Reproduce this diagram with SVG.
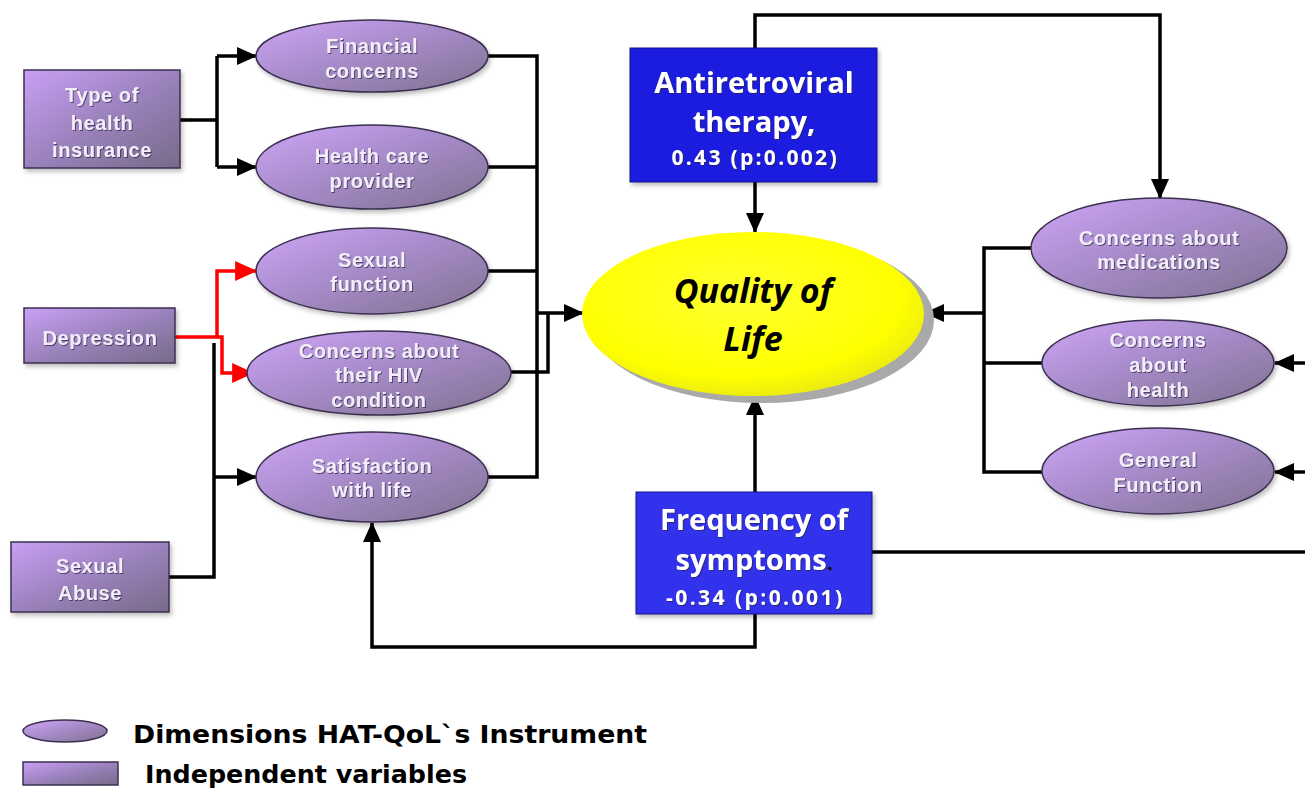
<svg xmlns="http://www.w3.org/2000/svg" width="1305" height="788" viewBox="0 0 1305 788">
<defs>
  <linearGradient id="purp" x1="0" y1="0" x2="1" y2="1">
    <stop offset="0" stop-color="#cfa6f7"/>
    <stop offset="0.45" stop-color="#a88ccb"/>
    <stop offset="1" stop-color="#807190"/>
  </linearGradient>
  <linearGradient id="purpBox" x1="0" y1="0" x2="1" y2="1">
    <stop offset="0" stop-color="#c9a0f5"/>
    <stop offset="0.5" stop-color="#9b82bd"/>
    <stop offset="1" stop-color="#786a88"/>
  </linearGradient>
  <radialGradient id="yel" cx="0.45" cy="0.4" r="0.6">
    <stop offset="0" stop-color="#ffff30"/>
    <stop offset="0.8" stop-color="#ffff00"/>
    <stop offset="1" stop-color="#eded10"/>
  </radialGradient>
  <filter id="ts" x="-10%" y="-30%" width="120%" height="160%">
    <feDropShadow dx="1" dy="1" stdDeviation="0.6" flood-color="#2a2040" flood-opacity="0.7"/>
  </filter>
  <filter id="ns" x="-10%" y="-10%" width="125%" height="130%">
    <feDropShadow dx="2" dy="3" stdDeviation="2" flood-color="#000" flood-opacity="0.25"/>
  </filter>
  <marker id="ab" viewBox="0 0 20 18" refX="19" refY="9" markerWidth="20" markerHeight="18" orient="auto" markerUnits="userSpaceOnUse">
    <path d="M0,0 L20,9 L0,18 z" fill="#000"/>
  </marker>
  <marker id="ar" viewBox="0 0 20 18" refX="19" refY="9" markerWidth="22" markerHeight="20" orient="auto" markerUnits="userSpaceOnUse">
    <path d="M0,0 L20,9 L0,18 z" fill="#ff0000"/>
  </marker>
</defs>
<style>
  .ell { fill: url(#purp); stroke: #3b3050; stroke-width: 1.5; }
  .box { fill: url(#purpBox); stroke: #3b3050; stroke-width: 1.5; }
  .nt { font-family: "Liberation Sans", Arial, sans-serif; font-weight: bold; font-size: 20px; fill: #f3ecfa; text-anchor: middle; letter-spacing: 0.6px; }
  .bt { font-family: "Open Sans", "Liberation Sans", sans-serif; font-weight: bold; fill: #ffffff; text-anchor: middle; }
  .qt { font-family: "Open Sans", "Liberation Sans", sans-serif; font-weight: bold; font-style: italic; font-size: 34px; fill: #000; text-anchor: middle; }
  .ln { fill: none; stroke: #000; stroke-width: 3.5; stroke-linejoin: miter; }
  .rd { fill: none; stroke: #ff0000; stroke-width: 3.5; }
  .lg { font-family: "DejaVu Sans", "Verdana", sans-serif; font-weight: bold; font-size: 25px; fill: #000; }
</style>
<rect x="0" y="0" width="1305" height="788" fill="#ffffff"/>

<g id="connectors">
  <path class="ln" d="M180,120 H217 M217,56 V167"/>
  <path class="ln" d="M217,56 H256" marker-end="url(#ab)"/>
  <path class="ln" d="M217,167 H256" marker-end="url(#ab)"/>
  <path class="ln" d="M169,577 H214 V343"/>
  <path class="ln" d="M214,477 H256" marker-end="url(#ab)"/>
  <path class="rd" d="M175,337 H217 V271 H256" marker-end="url(#ar)"/>
  <path class="rd" d="M217,337 H222 V373 H253" marker-end="url(#ar)"/>
  <path class="ln" d="M488,56 H537 V477 H488 M488,167 H537 M488,271 H537"/>
  <path class="ln" d="M537,313 H583" marker-end="url(#ab)"/>
  <path class="ln" d="M511,372 H548 V313"/>
  <path class="ln" d="M755,182 V232" marker-end="url(#ab)"/>
  <path class="ln" d="M755,48 V15 H1160 V198" marker-end="url(#ab)"/>
  <path class="ln" d="M755,492 V396" marker-end="url(#ab)"/>
  <path class="ln" d="M755,614 V647 H372 V523" marker-end="url(#ab)"/>
  <path class="ln" d="M872,552 H1305"/>
  <path class="ln" d="M1031,248 H984 V472 H1042 M1042,363 H984"/>
  <path class="ln" d="M984,313 H925" marker-end="url(#ab)"/>
  <path class="ln" d="M1305,363 H1275" marker-end="url(#ab)"/>
  <path class="ln" d="M1305,472 H1275" marker-end="url(#ab)"/>
</g>

<g id="type-of-health-insurance">
  <rect class="box" x="24" y="70" width="156" height="98" filter="url(#ns)"/>
  <text class="nt" filter="url(#ts)" font-size="21"><tspan x="102" y="102">Type of</tspan><tspan x="102" y="130">health</tspan><tspan x="102" y="157">insurance</tspan></text>
</g>

<g id="depression">
  <rect class="box" x="24" y="308" width="151" height="55" filter="url(#ns)"/>
  <text class="nt" filter="url(#ts)" font-size="21" x="100" y="345">Depression</text>
</g>

<g id="sexual-abuse">
  <rect class="box" x="11" y="542" width="158" height="70" filter="url(#ns)"/>
  <text class="nt" filter="url(#ts)" font-size="21"><tspan x="90" y="573">Sexual</tspan><tspan x="90" y="600">Abuse</tspan></text>
</g>

<g id="financial-concerns">
  <ellipse class="ell" cx="372" cy="56" rx="116" ry="36" filter="url(#ns)"/>
  <text class="nt" filter="url(#ts)"><tspan x="372" y="53">Financial</tspan><tspan x="372" y="78">concerns</tspan></text>
</g>

<g id="health-care-provider">
  <ellipse class="ell" cx="372" cy="167" rx="116" ry="42" filter="url(#ns)"/>
  <text class="nt" filter="url(#ts)"><tspan x="372" y="163">Health care</tspan><tspan x="372" y="188">provider</tspan></text>
</g>

<g id="sexual-function">
  <ellipse class="ell" cx="372" cy="271" rx="116" ry="43" filter="url(#ns)"/>
  <text class="nt" filter="url(#ts)"><tspan x="372" y="267">Sexual</tspan><tspan x="372" y="291">function</tspan></text>
</g>

<g id="concerns-hiv">
  <ellipse class="ell" cx="379" cy="373" rx="132" ry="42" filter="url(#ns)"/>
  <text class="nt" filter="url(#ts)"><tspan x="379" y="358">Concerns about</tspan><tspan x="379" y="382">their HIV</tspan><tspan x="379" y="407">condition</tspan></text>
</g>

<g id="satisfaction-with-life">
  <ellipse class="ell" cx="372" cy="477" rx="116" ry="45" filter="url(#ns)"/>
  <text class="nt" filter="url(#ts)"><tspan x="372" y="473">Satisfaction</tspan><tspan x="372" y="497">with life</tspan></text>
</g>

<g id="quality-of-life">
  <ellipse cx="762" cy="320" rx="172" ry="83" fill="#a9a9a9"/>
  <ellipse cx="753" cy="314" rx="171" ry="82" fill="url(#yel)"/>
  <text class="qt"><tspan x="753" y="303">Quality of</tspan><tspan x="753" y="351">Life</tspan></text>
</g>

<g id="antiretroviral-therapy">
  <rect x="630" y="48" width="247" height="134" fill="#1a1ae0" stroke="#10108a" stroke-width="1" filter="url(#ns)"/>
  <text class="bt" filter="url(#ts)" font-size="29"><tspan x="754" y="93">Antiretroviral</tspan><tspan x="754" y="132">therapy,</tspan></text>
  <text class="bt" filter="url(#ts)" x="754" y="165" font-size="21" textLength="165" lengthAdjust="spacing">0.43 (p:0.002)</text>
</g>

<g id="frequency-of-symptoms">
  <rect x="636" y="492" width="236" height="122" fill="#3232ec" stroke="#14148a" stroke-width="1" filter="url(#ns)"/>
  <text class="bt" filter="url(#ts)" font-size="29"><tspan x="754" y="530">Frequency of</tspan><tspan x="754" y="570">symptoms</tspan><tspan fill="#101010" font-size="20">.</tspan></text>
  <text class="bt" filter="url(#ts)" x="754" y="605" font-size="21" textLength="176" lengthAdjust="spacing">-0.34 (p:0.001)</text>
</g>

<g id="concerns-about-medications">
  <ellipse class="ell" cx="1159" cy="248" rx="128" ry="50" filter="url(#ns)"/>
  <text class="nt" filter="url(#ts)"><tspan x="1159" y="245">Concerns about</tspan><tspan x="1159" y="269">medications</tspan></text>
</g>

<g id="concerns-about-health">
  <ellipse class="ell" cx="1158" cy="363" rx="116" ry="43" filter="url(#ns)"/>
  <text class="nt" filter="url(#ts)"><tspan x="1158" y="347">Concerns</tspan><tspan x="1158" y="372">about</tspan><tspan x="1158" y="397">health</tspan></text>
</g>

<g id="general-function">
  <ellipse class="ell" cx="1158" cy="471" rx="116" ry="43" filter="url(#ns)"/>
  <text class="nt" filter="url(#ts)"><tspan x="1158" y="467">General</tspan><tspan x="1158" y="492">Function</tspan></text>
</g>

<g id="legend">
  <ellipse class="ell" cx="65" cy="731" rx="42" ry="11"/>
  <text class="lg" x="133" y="743" textLength="514" lengthAdjust="spacingAndGlyphs">Dimensions  HAT-QoL`s Instrument</text>
  <rect class="box" x="23" y="762" width="95" height="23"/>
  <text class="lg" x="145" y="783" textLength="322" lengthAdjust="spacingAndGlyphs">Independent variables</text>
</g>
</svg>
